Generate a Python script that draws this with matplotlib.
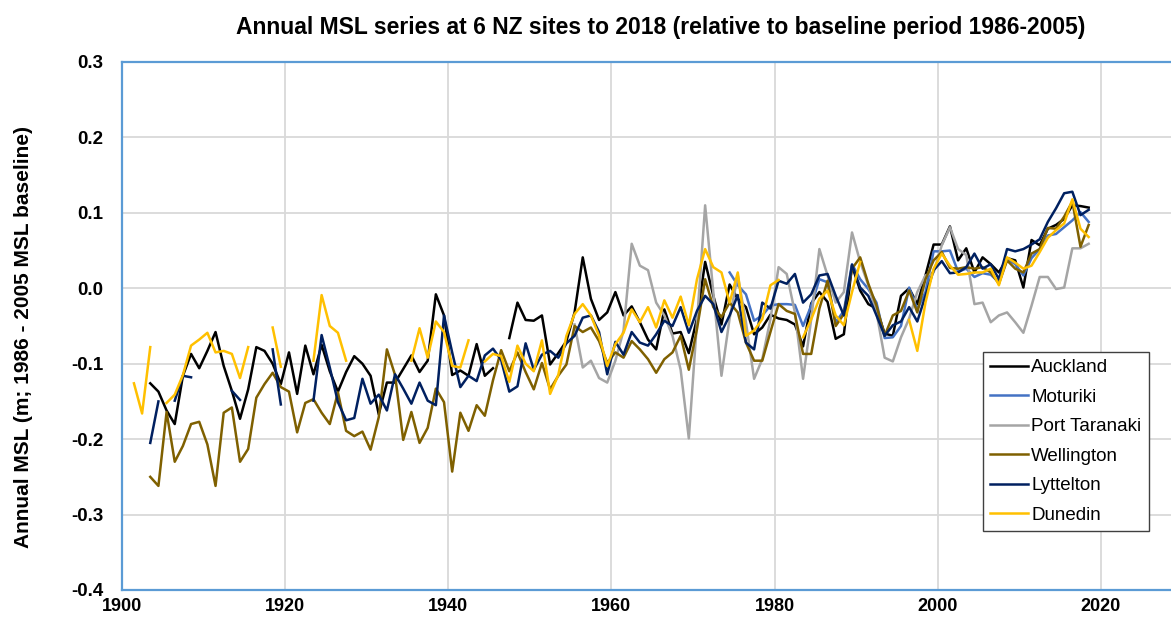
import numpy as np
import matplotlib
matplotlib.use('Agg')
import matplotlib.pyplot as plt

# Annual mean sea level at 6 NZ sites, relative to 1986-2005 baseline (m)
nan = np.nan
years = list(range(1901, 2019))

auckland = [nan, nan, -0.126, -0.137, -0.162, -0.180, -0.116, -0.087, -0.106, -0.083,
            -0.058, -0.103, -0.136, -0.173, -0.134, -0.078, -0.083, -0.100, -0.127, -0.085,
            -0.140, -0.076, -0.114, -0.075, -0.110, -0.137, -0.111, -0.090, -0.100, -0.116,
            -0.167, -0.125, -0.125, -0.107, -0.089, -0.111, -0.096, -0.008, -0.036, -0.115,
            -0.109, -0.116, -0.074, -0.116, -0.106, nan, -0.066, -0.019, -0.042, -0.043,
            -0.036, -0.101, -0.086, -0.070, -0.032, 0.041, -0.014, -0.042, -0.032, -0.005,
            -0.036, -0.024, -0.045, -0.068, -0.081, -0.028, -0.060, -0.058, -0.086, -0.040,
            0.035, -0.010, -0.048, 0.005, -0.014, -0.025, -0.061, -0.052, -0.035, -0.040,
            -0.042, -0.048, -0.077, -0.020, -0.005, -0.018, -0.067, -0.061, 0.030, -0.003,
            -0.021, -0.027, -0.060, -0.063, -0.010, 0.000, -0.021, 0.017, 0.058, 0.058,
            0.082, 0.037, 0.053, 0.021, 0.041, 0.032, 0.021, 0.040, 0.037, 0.001,
            0.064, 0.057, 0.079, 0.084, 0.092, 0.110, 0.109, 0.107]

# Moturiki record starts 1974
moturiki = [nan] * 73 + [
            0.021, 0.004, -0.008, -0.043, -0.036, -0.023, -0.021,
            -0.021, -0.022, -0.050, -0.023, 0.012, 0.008, -0.045, -0.030, 0.032, 0.012,
            -0.001, -0.019, -0.066, -0.065, -0.050, 0.001, -0.028, -0.005, 0.049, 0.049,
            0.050, 0.022, 0.026, 0.015, 0.020, 0.018, 0.008, 0.039, 0.032, 0.017,
            0.040, 0.052, 0.070, 0.072, 0.081, 0.090, 0.101, 0.088]

# Port Taranaki record starts 1955
port_taranaki = [nan] * 54 + [
            -0.048, -0.105, -0.096, -0.119, -0.125, -0.096,
            -0.056, 0.059, 0.030, 0.024, -0.019, -0.036, -0.063, -0.108, -0.199, -0.045,
            0.110, -0.005, -0.116, -0.040, 0.017, -0.045, -0.120, -0.094, -0.041, 0.028,
            0.019, -0.032, -0.120, -0.041, 0.052, 0.017, -0.019, -0.005, 0.074, 0.035,
            0.004, -0.032, -0.092, -0.097, -0.065, -0.040, -0.005, 0.017, 0.021, 0.057,
            0.081, 0.052, 0.044, -0.021, -0.019, -0.045, -0.036, -0.032, -0.045, -0.059,
            -0.023, 0.015, 0.015, -0.001, 0.001, 0.053, 0.053, 0.059]

wellington = [nan, nan, -0.250, -0.262, -0.164, -0.230, -0.209, -0.180, -0.177, -0.207,
              -0.262, -0.165, -0.158, -0.230, -0.213, -0.145, -0.127, -0.112, -0.131, -0.137,
              -0.191, -0.152, -0.147, -0.165, -0.180, -0.138, -0.189, -0.196, -0.190, -0.214,
              -0.171, -0.081, -0.115, -0.201, -0.164, -0.205, -0.185, -0.133, -0.151, -0.243,
              -0.165, -0.189, -0.155, -0.169, -0.122, -0.082, -0.110, -0.085, -0.111, -0.134,
              -0.099, -0.134, -0.116, -0.101, -0.050, -0.058, -0.052, -0.070, -0.099, -0.085,
              -0.092, -0.070, -0.081, -0.094, -0.112, -0.094, -0.085, -0.063, -0.108, -0.054,
              0.012, -0.025, -0.038, -0.019, -0.032, -0.072, -0.096, -0.096, -0.058, -0.021,
              -0.030, -0.034, -0.087, -0.087, -0.027, 0.010, -0.050, -0.034, 0.026, 0.041,
              0.006, -0.023, -0.063, -0.036, -0.030, -0.003, -0.032, 0.012, 0.037, 0.048,
              0.027, 0.026, 0.028, 0.026, 0.028, 0.021, 0.006, 0.037, 0.026, 0.021,
              0.046, 0.052, 0.080, 0.079, 0.095, 0.115, 0.055, 0.084]

lyttelton = [nan, nan, -0.205, -0.150, nan, -0.149, -0.116, -0.118, nan, nan,
             nan, nan, -0.136, -0.148, nan, nan, nan, -0.081, -0.154, nan,
             nan, nan, -0.149, -0.062, -0.105, -0.151, -0.175, -0.172, -0.120, -0.153,
             -0.141, -0.162, -0.114, -0.133, -0.153, -0.125, -0.149, -0.155, -0.036, -0.085,
             -0.131, -0.116, -0.123, -0.089, -0.080, -0.095, -0.137, -0.130, -0.073, -0.108,
             -0.088, -0.083, -0.092, -0.073, -0.063, -0.039, -0.036, -0.058, -0.114, -0.071,
             -0.088, -0.058, -0.072, -0.076, -0.061, -0.043, -0.050, -0.025, -0.059, -0.030,
             -0.010, -0.021, -0.058, -0.036, -0.009, -0.072, -0.081, -0.019, -0.027, 0.010,
             0.006, 0.019, -0.019, -0.008, 0.017, 0.019, -0.010, -0.036, 0.031, 0.001,
             -0.010, -0.036, -0.063, -0.049, -0.044, -0.025, -0.044, -0.010, 0.024, 0.036,
             0.020, 0.021, 0.028, 0.046, 0.026, 0.032, 0.012, 0.052, 0.049, 0.052,
             0.058, 0.065, 0.088, 0.106, 0.126, 0.128, 0.097, 0.104]

dunedin = [-0.126, -0.166, -0.078, nan, -0.152, -0.141, -0.115, -0.076, -0.068, -0.059,
           -0.085, -0.083, -0.087, -0.119, -0.078, nan, nan, -0.052, -0.104, nan,
           nan, nan, -0.096, -0.009, -0.050, -0.059, -0.096, nan, nan, nan,
           nan, nan, nan, nan, -0.096, -0.053, -0.092, -0.044, -0.058, -0.103,
           -0.105, -0.069, nan, -0.097, -0.087, -0.090, -0.124, -0.076, -0.100, -0.110,
           -0.069, -0.140, -0.115, -0.063, -0.034, -0.021, -0.036, -0.063, -0.103, -0.074,
           -0.059, -0.028, -0.045, -0.025, -0.052, -0.016, -0.039, -0.011, -0.049, 0.012,
           0.052, 0.028, 0.021, -0.019, 0.021, -0.063, -0.056, -0.041, 0.004, 0.011,
           nan, nan, -0.065, -0.041, -0.014, -0.003, -0.036, -0.049, -0.005, 0.035,
           nan, nan, nan, nan, nan, -0.042, -0.083, -0.019, 0.026, 0.046,
           0.030, 0.018, 0.019, 0.021, 0.021, 0.026, 0.004, 0.041, 0.034, 0.026,
           0.030, 0.048, 0.067, 0.077, 0.086, 0.118, 0.079, 0.068]

sites = ['Auckland', 'Moturiki', 'Port Taranaki', 'Wellington', 'Lyttelton', 'Dunedin']
series = [auckland, moturiki, port_taranaki, wellington, lyttelton, dunedin]
colours = ['#000000', '#4472C4', '#A5A5A5', '#7F6000', '#002060', '#FFC000']

xticks = [1900, 1920, 1940, 1960, 1980, 2000, 2020]
yticks = [-0.4, -0.3, -0.2, -0.1, 0.0, 0.1, 0.2, 0.3]

plt.rcParams['font.family'] = ['Liberation Sans', 'DejaVu Sans']

fig = plt.figure(figsize=(11.71, 6.21), dpi=100)
# plot area runs off the right edge of the picture, like the original
ax = fig.add_axes([121.7 / 1171, 31 / 621, 1060.8 / 1171, 528 / 621])

# values are annual means, plotted at mid-year
x = np.array(years) + 0.5
for name, vals, col in zip(sites, series, colours):
    ax.plot(x, vals, color=col, lw=1.8, label=name)

ax.set_xlim(1900, 2030)
ax.set_ylim(-0.4, 0.3)
ax.set_xticks(xticks)
ax.set_yticks(yticks)
ax.set_xticklabels([str(t) for t in xticks], fontsize=13, fontweight='bold')
ax.set_yticklabels(['%.1f' % t for t in yticks], fontsize=13.5, fontweight='bold')
ax.tick_params(axis='x', length=0, pad=6)
ax.tick_params(axis='y', length=0, pad=13)

ax.grid(True, color='#D9D9D9', lw=1.3)
ax.set_axisbelow(True)
for side in ['left', 'top', 'bottom']:
    ax.spines[side].set_color('#5B9BD5')
    ax.spines[side].set_linewidth(1.6)
ax.spines['right'].set_visible(False)

ax.set_ylabel('Annual MSL (m; 1986 - 2005 MSL baseline)', fontsize=15,
              fontweight='bold', labelpad=18)
ax.yaxis.set_label_coords(-0.084, 0.48)
fig.text(0.564, 0.955, 'Annual MSL series at 6 NZ sites to 2018 (relative to baseline period 1986-2005)',
         ha='center', va='center', fontsize=16.5, fontweight='bold')

leg = ax.legend(loc='upper left', bbox_to_anchor=(983 / 1171, 1 - 352 / 621),
                bbox_transform=fig.transFigure, borderaxespad=0, fontsize=13.5,
                handlelength=2.0, handletextpad=0.2, labelspacing=0.66,
                fancybox=False, framealpha=1, borderpad=0.38)
leg.get_frame().set_edgecolor('#404040')
leg.get_frame().set_linewidth(1.0)

plt.savefig('out.png', dpi=100)
